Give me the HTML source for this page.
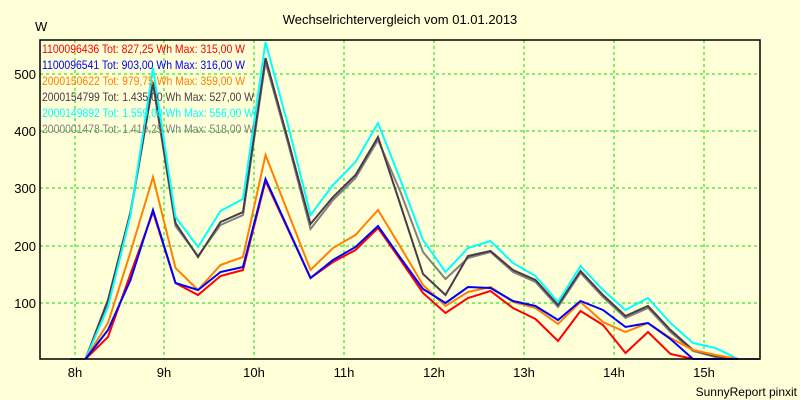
<!DOCTYPE html>
<html><head><meta charset="utf-8"><style>
html,body{margin:0;padding:0;background:#ffffd8;}
svg{display:block;font-family:"Liberation Sans",sans-serif;}
</style></head><body>
<svg width="800" height="400" viewBox="0 0 800 400" xmlns="http://www.w3.org/2000/svg">
<rect width="800" height="400" fill="#ffffd8"/>
<text x="400" y="24" font-size="13" text-anchor="middle" fill="#000">Wechselrichtervergleich vom 01.01.2013</text>
<text x="35" y="31" font-size="13" fill="#000">W</text>
<g stroke="#00e000" stroke-width="1" stroke-dasharray="3,3" fill="none">
<line x1="40" y1="74" x2="760" y2="74"/><line x1="40" y1="131" x2="760" y2="131"/>
<line x1="40" y1="188" x2="760" y2="188"/><line x1="40" y1="246" x2="760" y2="246"/>
<line x1="40" y1="303" x2="760" y2="303"/>
<line x1="75" y1="40" x2="75" y2="359"/><line x1="164" y1="40" x2="164" y2="359"/>
<line x1="254" y1="40" x2="254" y2="359"/><line x1="344" y1="40" x2="344" y2="359"/>
<line x1="434" y1="40" x2="434" y2="359"/><line x1="524" y1="40" x2="524" y2="359"/>
<line x1="614" y1="40" x2="614" y2="359"/><line x1="704" y1="40" x2="704" y2="359"/>
</g>
<g font-size="13" text-anchor="end" fill="#000">
<text x="36" y="79">500</text><text x="36" y="136">400</text><text x="36" y="193">300</text><text x="36" y="251">200</text><text x="36" y="308">100</text>
</g>
<g font-size="13" text-anchor="middle" fill="#000">
<text x="75" y="377">8h</text><text x="164" y="377">9h</text><text x="254" y="377">10h</text><text x="344" y="377">11h</text>
<text x="434" y="377">12h</text><text x="524" y="377">13h</text><text x="614" y="377">14h</text><text x="704" y="377">15h</text>
</g>
<text x="797" y="396" font-size="12" text-anchor="end" fill="#000">SunnyReport pinxit</text>
<g fill="none" stroke-width="2" stroke-linejoin="miter">
<polyline stroke="#808080" points="70,359 85.5,359 108,302 130.5,214 153,84 175.5,226 198,256 220.5,225 243,215 265.5,62 288,143 310.5,229 333,200 355.5,178 378,140 400.5,192 423,252 445.5,279 468,258 490.5,252 513,272 535.5,282 558,307 580.5,273 603,297 625.5,318 648,308 670.5,332 693,351 715.5,357 738,359 760,359"/>
<polyline stroke="#4a3a4a" points="85.5,359 108,300 130.5,212 153,82 175.5,223 198,257 220.5,222 243,212 265.5,58 288,140 310.5,224 333,197 355.5,175 378,137 400.5,205 423,274 445.5,295 468,256 490.5,251 513,270 535.5,280 558,305 580.5,271 603,295 625.5,316 648,306 670.5,330 693,350 715.5,356 738,359"/>
<polyline stroke="#00ffff" points="85.5,359 108,307 130.5,215 153,68 175.5,217 198,247 220.5,211 243,199 265.5,42 288,125 310.5,215 333,185 355.5,162 378,123 400.5,180 423,240 445.5,272 468,248 490.5,241 513,263 535.5,276 558,302 580.5,266 603,290 625.5,310 648,298 670.5,323 693,343 715.5,348 738,359"/>
<polyline stroke="#ff8000" points="85.5,359 108,323 130.5,252 153,177 175.5,268 198,290 220.5,265 243,257 265.5,155 310.5,270 333,248 355.5,235 378,210 400.5,247 423,285 445.5,306 468,292 490.5,287 513,302 535.5,308 558,324 580.5,302 603,322 625.5,332 648,323 670.5,338 693,350 715.5,355 738,359"/>
<polyline stroke="#ff0000" points="85.5,359 108,337 130.5,274 153,212 175.5,283 198,295 220.5,276 243,270 265.5,181 310.5,278 333,262 355.5,250 378,228 400.5,260 423,293 445.5,313 468,298 490.5,291 513,308 535.5,319 558,341 580.5,311 603,325 625.5,353 648,332 670.5,354 693,359 738,359"/>
<polyline stroke="#0000ff" points="85.5,359 108,330 130.5,280 153,210 175.5,283 198,290 220.5,272 243,267 265.5,179 310.5,278 333,260 355.5,247 378,226 400.5,258 423,289 445.5,303 468,287 490.5,288 513,301 535.5,306 558,320 580.5,301 603,310 625.5,327 648,323 670.5,339 693,359 738,359"/>
</g>
<rect x="40" y="40" width="720" height="319" fill="none" stroke="#000" stroke-width="1.5"/>
<g font-size="12">
<text x="42" y="53" fill="#ff0000" textLength="203" lengthAdjust="spacingAndGlyphs">1100096436 Tot: 827,25 Wh Max: 315,00 W</text>
<text x="42" y="69" fill="#0000ff" textLength="203" lengthAdjust="spacingAndGlyphs">1100096541 Tot: 903,00 Wh Max: 316,00 W</text>
<text x="42" y="85" fill="#ff8000" textLength="203" lengthAdjust="spacingAndGlyphs">2000150622 Tot: 979,75 Wh Max: 359,00 W</text>
<text x="42" y="101" fill="#4a3a4a" textLength="212" lengthAdjust="spacingAndGlyphs">2000154799 Tot: 1.435,00 Wh Max: 527,00 W</text>
<text x="42" y="117" fill="#00ffff" textLength="212" lengthAdjust="spacingAndGlyphs">2000149892 Tot: 1.559,00 Wh Max: 556,00 W</text>
<text x="42" y="133" fill="#808080" textLength="212" lengthAdjust="spacingAndGlyphs">2000001478 Tot: 1.419,25 Wh Max: 518,00 W</text>
</g>
</svg>
</body></html>
